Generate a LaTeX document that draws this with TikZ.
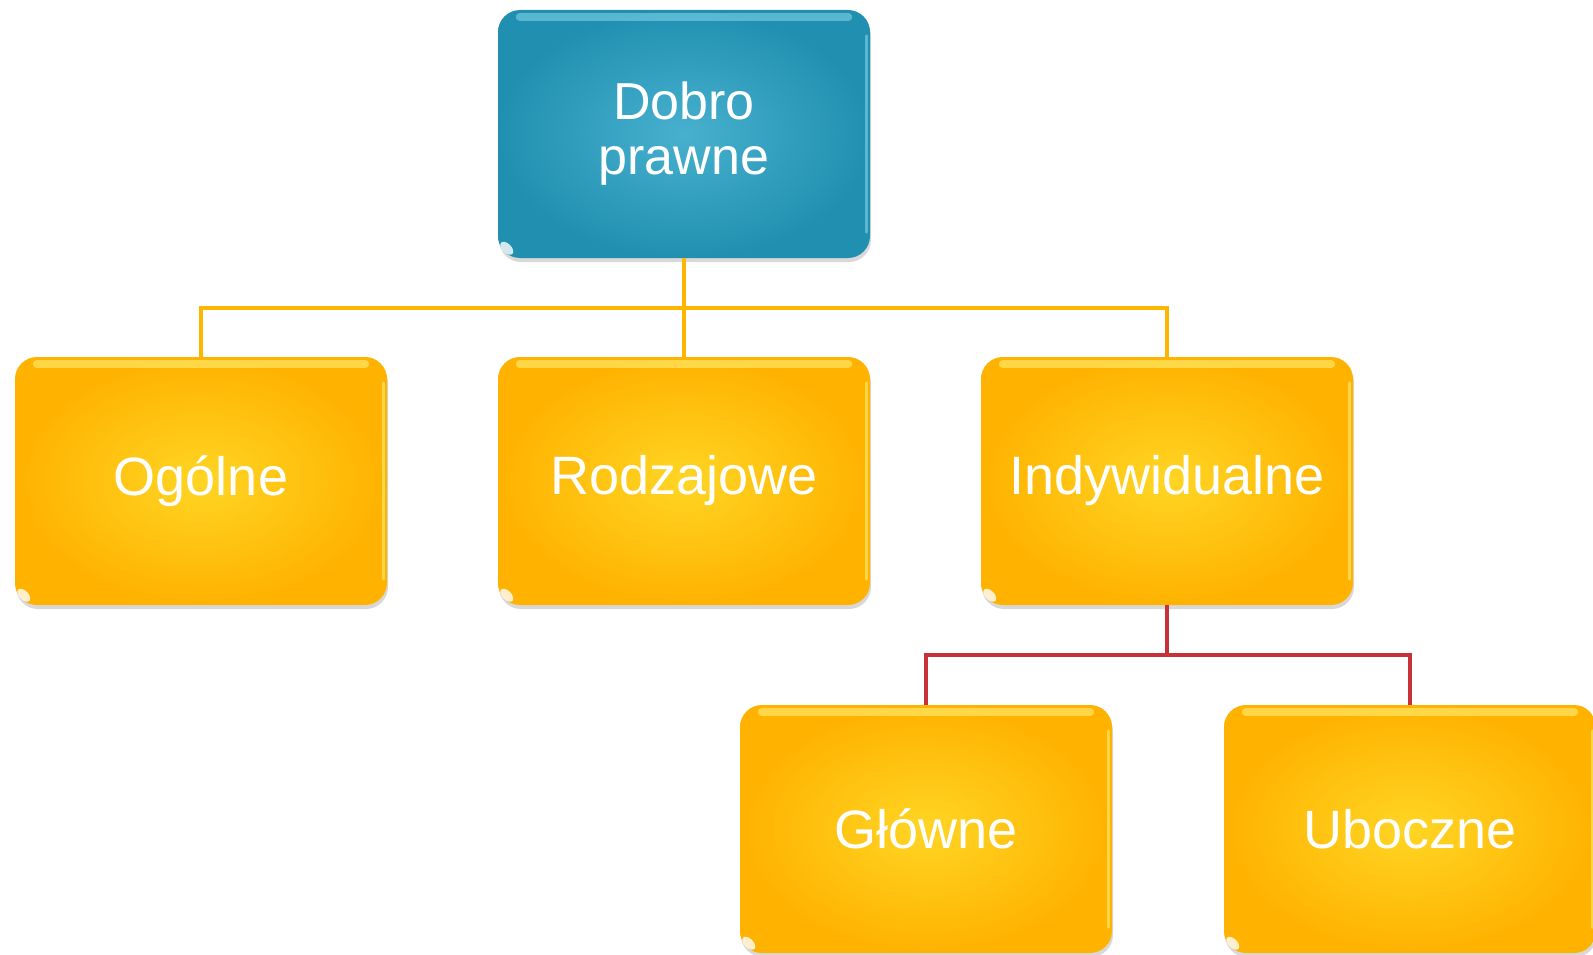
\documentclass[tikz,border=0pt]{standalone}
\usepackage{fontspec}
\setmainfont{Liberation Sans}
\usetikzlibrary{shadows}
\definecolor{yIn}{HTML}{FFD524}
\definecolor{yOut}{HTML}{FFB200}
\definecolor{yHi}{HTML}{FFF176}
\definecolor{tIn}{HTML}{48B0CF}
\definecolor{tOut}{HTML}{2190B0}
\definecolor{tHi}{HTML}{80D2E8}
\definecolor{yLine}{HTML}{FFB600}
\definecolor{rLine}{HTML}{C8303A}
\tikzset{
  boxbase/.style={minimum width=372pt, minimum height=248pt, rounded corners=22pt,
    text=white, inner sep=0pt, align=center,
    drop shadow={shadow xshift=1pt, shadow yshift=-4pt, opacity=0.25, fill=black!60}},
  ybox/.style={boxbase, shading=radial, inner color=yIn, outer color=yOut,
    font=\fontsize{54}{58}\selectfont},
  tbox/.style={boxbase, shading=radial, inner color=tIn, outer color=tOut,
    font=\fontsize{52}{55}\selectfont},
  yconn/.style={draw=yLine, line width=4.5pt},
  rconn/.style={draw=rLine, line width=4pt},
  hiband/.style={line width=8pt, line cap=round, opacity=0.6},
  hiside/.style={line width=3pt, line cap=round, opacity=0.6},
  spot/.style={fill=white, opacity=0.8}
}
\begin{document}
\begin{tikzpicture}[x=1pt,y=-1pt]
\useasboundingbox (0,0) rectangle (1593,955);
\fill[white] (0,0) rectangle (1593,955);

\node[tbox] (top) at (684,134) {Dobro\\prawne};
\node[ybox] (ogolne) at (201,481) {Ogólne};
\node[ybox] (rodz) at (684,481) {Rodzajowe};
\node[ybox] (ind) at (1167,481) {Indywidualne};
\node[ybox] (glowne) at (926,829) {Główne};
\node[ybox] (ubo) at (1410,829) {Uboczne};

% glossy highlights
\foreach \n/\c in {top/tHi, ogolne/yHi, rodz/yHi, ind/yHi, glowne/yHi, ubo/yHi}{
  \draw[hiband, draw=\c] ([xshift=22pt,yshift=-7pt]\n.north west) -- ([xshift=-22pt,yshift=-7pt]\n.north east);
  \draw[hiside, draw=\c] ([xshift=-4pt,yshift=-26pt]\n.north east) -- ([xshift=-4pt,yshift=26pt]\n.south east);
  \fill[spot] ([xshift=9pt,yshift=10pt]\n.south west) ellipse[x radius=8pt, y radius=4.5pt, rotate=-45];
}

% connectors
\coordinate (j1) at (684,308);
\coordinate (j2) at (1167,655);
\draw[yconn] (top.south) -- (rodz.north);
\draw[yconn] (ogolne.north) |- (j1) -| (ind.north);
\draw[rconn] (ind.south) -- (j2);
\draw[rconn] (glowne.north) |- (j2) -| (ubo.north);
\end{tikzpicture}
\end{document}
